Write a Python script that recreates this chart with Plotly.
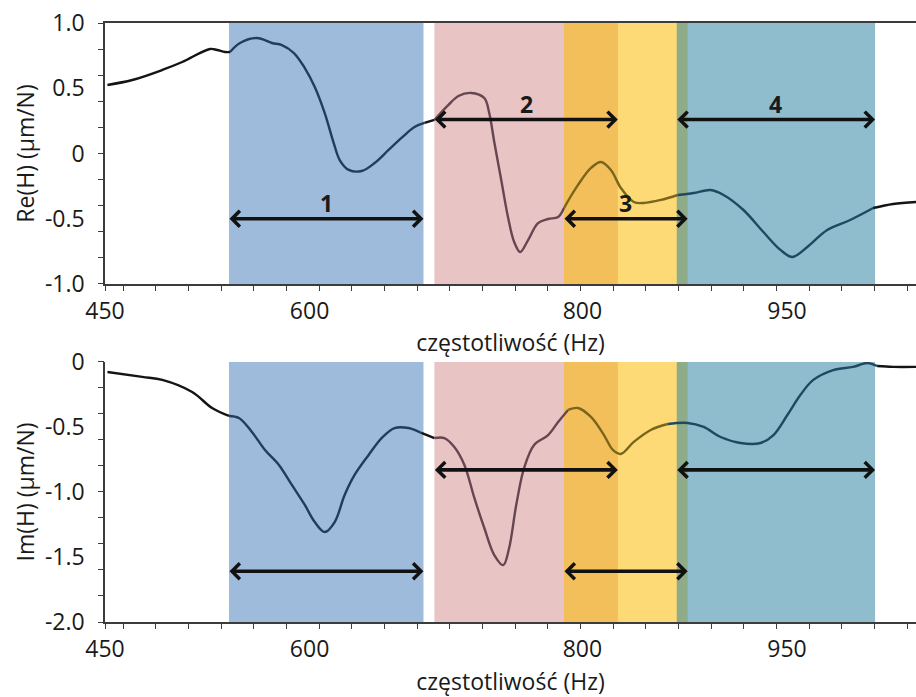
import numpy as np
import plotly.graph_objects as go

# ---------------- data ----------------
freq_re = [451.8, 470.0, 492.0, 506.6, 527.0, 532.2, 538.0, 541.7, 549.0, 561.4,
           572.4, 579.7, 588.5, 596.5, 603.8, 611.1, 617.7, 622.1, 628.7, 638.2,
           647.7, 657.9, 667.4, 676.9, 684.2, 691.5, 701.8, 709.1, 718.6, 728.1,
           731.7, 735.4, 740.5, 745.6, 750.0, 754.4, 760.2, 767.5, 774.9, 782.2,
           786.5, 796.8, 806.3, 813.6, 820.9, 828.2, 837.7, 845.0, 857.5, 869.9,
           881.6, 894.0, 903.5, 918.1, 932.7, 945.2, 953.9, 964.9, 979.5, 996.3,
           1013.2, 1027.8, 1044.6]
re_h = [0.525, 0.563, 0.640, 0.701, 0.801, 0.793, 0.778, 0.778, 0.847, 0.885,
        0.847, 0.831, 0.770, 0.655, 0.510, 0.310, 0.080, -0.050, -0.126, -0.134,
        -0.073, 0.027, 0.119, 0.203, 0.234, 0.257, 0.372, 0.441, 0.464, 0.425,
        0.310, 0.088, -0.203, -0.494, -0.678, -0.755, -0.663, -0.533, -0.502, -0.487,
        -0.418, -0.241, -0.111, -0.065, -0.126, -0.264, -0.372, -0.379, -0.356, -0.318,
        -0.303, -0.280, -0.318, -0.433, -0.602, -0.739, -0.793, -0.716, -0.586, -0.510,
        -0.418, -0.387, -0.372]

freq_im = [451.8, 477.3, 492.0, 513.9, 528.5, 540.9, 548.2, 557.7, 567.3, 577.5,
           587.0, 596.5, 603.8, 611.1, 618.4, 625.7, 633.0, 643.3, 652.8, 662.3,
           672.5, 682.0, 691.5, 698.8, 706.1, 713.5, 720.8, 728.1, 735.4, 742.0,
           746.3, 751.5, 757.3, 764.6, 774.9, 782.2, 789.5, 796.8, 806.3, 815.8,
           822.4, 828.2, 837.7, 850.1, 862.6, 877.2, 888.9, 901.3, 915.9, 930.6,
           940.1, 950.3, 959.8, 969.3, 983.9, 998.5, 1008.8, 1016.1, 1027.8, 1044.6]
im_h = [-0.077, -0.115, -0.138, -0.231, -0.354, -0.415, -0.431, -0.538, -0.677, -0.792,
        -0.946, -1.100, -1.231, -1.308, -1.231, -1.023, -0.869, -0.715, -0.585, -0.508,
        -0.508, -0.546, -0.585, -0.585, -0.654, -0.792, -1.046, -1.277, -1.485, -1.562,
        -1.431, -1.100, -0.815, -0.638, -0.562, -0.462, -0.369, -0.354, -0.423, -0.562,
        -0.677, -0.708, -0.615, -0.523, -0.477, -0.469, -0.500, -0.577, -0.623, -0.623,
        -0.562, -0.408, -0.254, -0.138, -0.062, -0.038, -0.008, -0.031, -0.038, -0.038]

x_tick_vals = [450, 600, 800, 950]
x_tick_text = ["450", "600", "800", "950"]
re_tick_vals = [1.0, 0.5, 0.0, -0.5, -1.0]
re_tick_text = ["1.0", "0.5", "0", "-0.5", "-1.0"]
im_tick_vals = [0.0, -0.5, -1.0, -1.5, -2.0]
im_tick_text = ["0", "-0.5", "-1.0", "-1.5", "-2.0"]

band_labels = ["1", "2", "3", "4"]
band_start = [540.9, 691.5, 786.5, 869.2]
band_end = [683.5, 826.0, 877.2, 1014.6]

# ---------------- styles ----------------
band_fill = ["rgba(61,119,183,0.5)", "rgba(209,137,137,0.5)",
             "rgba(251,188,6,0.55)", "rgba(31,123,157,0.5)"]
band_line_color = ["#223c5e", "#664650", "#7a651c", "#1d4a60"]
outside_line_color = "#141414"
arrow_level_re = [-0.5, 0.26, -0.5, 0.26]
arrow_level_im = [-1.61, -0.83, -1.61, -0.83]

X_RANGE = [450, 1044.6]
FONT = "Open Sans, sans-serif"
TXT = "#1a1a1a"
AXC = "#3c3c3c"
tick_font = dict(family=FONT, size=23, color=TXT)

fig = go.Figure()


def region(f):
    r = None
    for i, (s, e) in enumerate(zip(band_start, band_end)):
        if s <= f <= e:
            r = i
    return r


def add_curve(xs, ys, xa, ya):
    segs = []
    cur = region((xs[0] + xs[1]) / 2)
    start = 0
    for i in range(1, len(xs) - 1):
        r = region((xs[i] + xs[i + 1]) / 2)
        if r != cur:
            segs.append((start, i, cur))
            start, cur = i, r
    segs.append((start, len(xs) - 1, cur))
    for s, e, r in segs:
        col = outside_line_color if r is None else band_line_color[r]
        fig.add_trace(go.Scatter(
            x=xs[s:e + 1], y=ys[s:e + 1], mode="lines", xaxis=xa, yaxis=ya,
            line=dict(color=col, width=2.4, shape="spline", smoothing=1.0),
            showlegend=False, hoverinfo="skip"))


add_curve(freq_re, re_h, "x", "y")
add_curve(freq_im, im_h, "x2", "y2")

# bands
for i in range(4):
    for xr, yr in (("x", "y domain"), ("x2", "y2 domain")):
        fig.add_shape(type="rect", xref=xr, yref=yr, x0=band_start[i], x1=band_end[i],
                      y0=0, y1=1, fillcolor=band_fill[i], line=dict(width=0), layer="below")

# arrows
for i in range(4):
    for xr, yr, lev in (("x", "y", arrow_level_re[i]), ("x2", "y2", arrow_level_im[i])):
        fig.add_annotation(x=band_end[i], y=lev, ax=band_start[i], ay=lev,
                           xref=xr, yref=yr, axref=xr, ayref=yr, text="",
                           font=dict(size=1), borderpad=0,
                           showarrow=True, arrowside="end+start",
                           arrowhead=4, startarrowhead=4, arrowsize=0.85, startarrowsize=0.85,
                           arrowwidth=3.6, arrowcolor="#111111")
    fig.add_annotation(x=(band_start[i] + band_end[i]) / 2, y=arrow_level_re[i],
                       xref="x", yref="y", text="<b>%s</b>" % band_labels[i],
                       showarrow=False, yshift=16,
                       font=dict(family=FONT, size=23, color=TXT))

xminor = list(np.arange(535.05 - 4 * 23.95, X_RANGE[1], 23.95))
xminor = [450.0] + [v for v in xminor if v > 452]
re_minor = list(np.round(np.arange(-1.0, 1.001, 0.2), 3))
im_minor = list(np.round(np.arange(-2.0, 0.001, 0.2), 3))

xbase = dict(range=X_RANGE, showgrid=False, zeroline=False, showline=True,
             linecolor=AXC, linewidth=1.5, ticks="", tickmode="array",
             tickvals=x_tick_vals, ticktext=x_tick_text, tickfont=tick_font,
             ticklabelstandoff=6)
ybase = dict(showgrid=False, zeroline=False, showline=True, linecolor=AXC, linewidth=1.5,
             ticks="", tickmode="array", tickfont=tick_font, ticklabelstandoff=14)
tickonly = dict(showgrid=False, zeroline=False, showline=False, showticklabels=False,
                ticks="outside", ticklen=6, tickwidth=1.3, tickcolor=AXC, tickmode="array")

top_dom = [0.5643, 1.0]
bot_dom = [0.0, 0.4341]

fig.update_layout(
    width=916, height=697,
    margin=dict(l=105, r=0, t=23, b=75),
    paper_bgcolor="white", plot_bgcolor="white",
    xaxis=dict(xbase, anchor="y", mirror=True,
               title=dict(text="częstotliwość (Hz)", font=tick_font, standoff=6)),
    xaxis2=dict(xbase, anchor="y2",
                title=dict(text="częstotliwość (Hz)", font=tick_font, standoff=14)),
    yaxis=dict(ybase, domain=top_dom, range=[-1, 1], anchor="x",
               tickvals=re_tick_vals, ticktext=re_tick_text,
               title=dict(text="Re(H) (µm/N)", font=tick_font, standoff=4)),
    yaxis2=dict(ybase, domain=bot_dom, range=[-2, 0], anchor="x2",
                tickvals=im_tick_vals, ticktext=im_tick_text,
                title=dict(text="Im(H) (µm/N)", font=tick_font, standoff=4)),
    xaxis3=dict(tickonly, range=X_RANGE, overlaying="x", anchor="y", tickvals=xminor),
    xaxis4=dict(tickonly, range=X_RANGE, overlaying="x2", anchor="y2", tickvals=xminor),
    yaxis3=dict(tickonly, range=[-1, 1], overlaying="y", anchor="x", tickvals=re_minor),
    yaxis4=dict(tickonly, range=[-2, 0], overlaying="y2", anchor="x2", tickvals=im_minor),
)

# invisible anchor traces so the tick-only overlay axes render
fig.add_trace(go.Scatter(x=[X_RANGE[0]], y=[0], xaxis="x3", yaxis="y3", mode="markers",
                         marker=dict(opacity=0), showlegend=False, hoverinfo="skip"))
fig.add_trace(go.Scatter(x=[X_RANGE[0]], y=[-1], xaxis="x4", yaxis="y4", mode="markers",
                         marker=dict(opacity=0), showlegend=False, hoverinfo="skip"))

fig.write_html("out.html")
